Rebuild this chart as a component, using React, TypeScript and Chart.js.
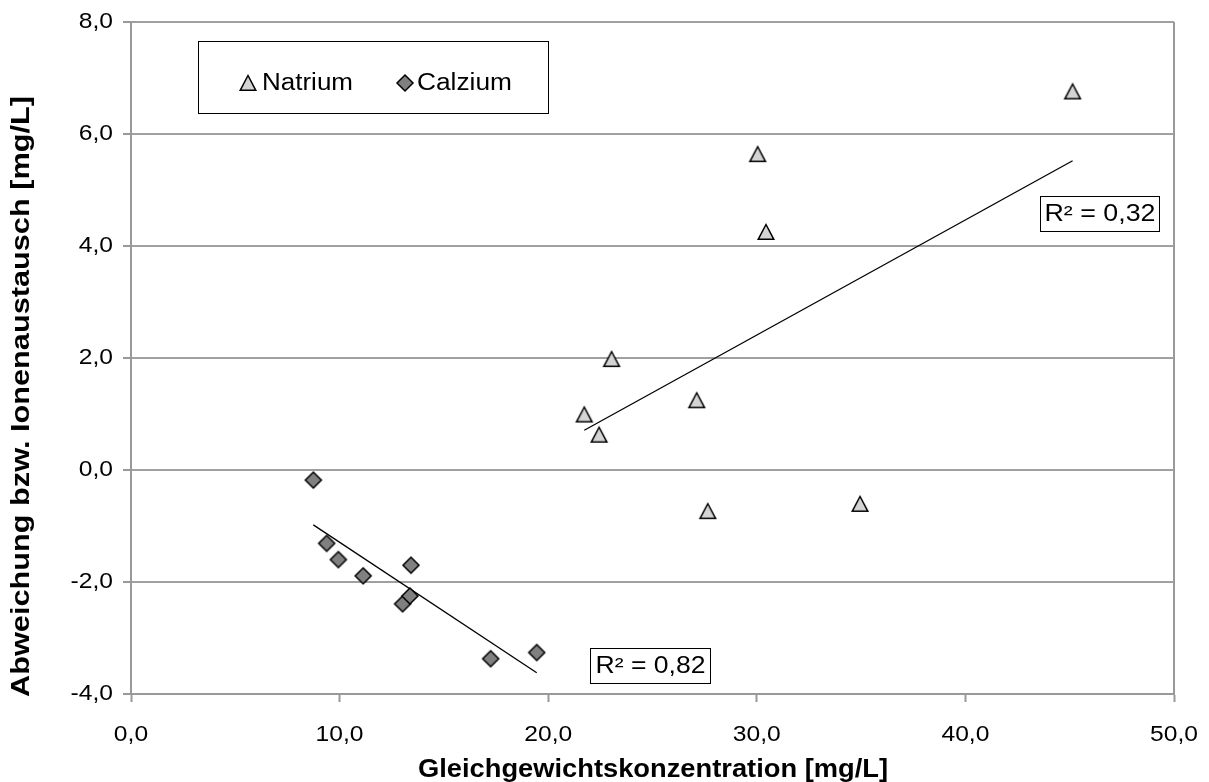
import React, { useEffect, useRef } from "react";
import { Chart, registerables } from "chart.js";

Chart.register(...registerables);

const natriumX = [21.73, 22.44, 23.04, 27.12, 27.65, 30.04, 30.44, 34.95, 45.14];
const natriumY = [0.99, 0.63, 1.98, 1.245, -0.735, 5.64, 4.25, -0.605, 6.76];
const calziumX = [8.74, 9.38, 9.94, 11.13, 13.42, 13.02, 13.37, 17.24, 19.45];
const calziumY = [-0.18, -1.31, -1.6, -1.89, -1.7, -2.39, -2.25, -3.37, -3.26];
const seriesNames = ["Natrium", "Calzium"];
const r2Labels = ["R² = 0,32", "R² = 0,82"];
const xTitle = "Gleichgewichtskonzentration [mg/L]";
const yTitle = "Abweichung bzw. Ionenaustausch [mg/L]";

const FONT = "'Liberation Sans', Arial, sans-serif";

function regressionLine(xs: number[], ys: number[]) {
  const n = xs.length;
  const mx = xs.reduce((a, b) => a + b, 0) / n;
  const my = ys.reduce((a, b) => a + b, 0) / n;
  let sxy = 0, sxx = 0;
  for (let i = 0; i < n; i++) {
    sxy += (xs[i] - mx) * (ys[i] - my);
    sxx += (xs[i] - mx) ** 2;
  }
  const slope = sxy / sxx;
  const icpt = my - slope * mx;
  const x0 = Math.min(...xs);
  const x1 = Math.max(...xs);
  return [
    { x: x0, y: icpt + slope * x0 },
    { x: x1, y: icpt + slope * x1 },
  ];
}

function makeTriangle(): HTMLCanvasElement {
  const c = document.createElement("canvas");
  c.width = 20;
  c.height = 20;
  const g = c.getContext("2d")!;
  g.beginPath();
  g.moveTo(10, 2.5);
  g.lineTo(17.8, 17.3);
  g.lineTo(2.2, 17.3);
  g.closePath();
  g.fillStyle = "#d4d4d4";
  g.fill();
  g.lineWidth = 1.5;
  g.strokeStyle = "#000";
  g.stroke();
  return c;
}

function makeDiamond(): HTMLCanvasElement {
  const c = document.createElement("canvas");
  c.width = 20;
  c.height = 20;
  const g = c.getContext("2d")!;
  g.beginPath();
  g.moveTo(10, 2);
  g.lineTo(18, 10);
  g.lineTo(10, 18);
  g.lineTo(2, 10);
  g.closePath();
  g.fillStyle = "#808080";
  g.fill();
  g.lineWidth = 1.5;
  g.strokeStyle = "#000";
  g.stroke();
  return c;
}

function fmt(v: number) {
  return v.toFixed(1).replace(".", ",");
}

// draws text with a horizontal stretch; if targetW given, stretch to that width
function drawText(
  ctx: CanvasRenderingContext2D,
  text: string,
  x: number,
  y: number,
  font: string,
  align: CanvasTextAlign,
  stretch: number,
  targetW?: number,
  rotate?: number
) {
  ctx.save();
  ctx.font = font;
  ctx.textAlign = align;
  ctx.textBaseline = "middle";
  ctx.fillStyle = "#000";
  ctx.translate(x, y);
  if (rotate) ctx.rotate(rotate);
  let s = stretch;
  if (targetW) s = targetW / ctx.measureText(text).width;
  ctx.scale(s, 1);
  ctx.fillText(text, 0, 0);
  ctx.restore();
}

export default function App() {
  const ref = useRef<HTMLCanvasElement | null>(null);

  useEffect(() => {
    const canvas = ref.current!;
    const tri = makeTriangle();
    const dia = makeDiamond();

    const overlay = {
      id: "overlay",
      afterDraw(chart: any) {
        const ctx = chart.ctx as CanvasRenderingContext2D;
        const a = chart.chartArea;
        const xs = chart.scales.x;
        const ys = chart.scales.y;
        ctx.save();
        // right border of plot area
        ctx.strokeStyle = "#999";
        ctx.lineWidth = 2;
        ctx.beginPath();
        ctx.moveTo(a.right, a.top);
        ctx.lineTo(a.right, a.bottom);
        ctx.stroke();
        ctx.restore();

        // tick labels
        const tickFont = `22px ${FONT}`;
        for (const t of xs.ticks) {
          drawText(ctx, fmt(t.value), xs.getPixelForValue(t.value), 735, tickFont, "center", 1.12);
        }
        for (const t of ys.ticks) {
          drawText(ctx, fmt(t.value), 113, ys.getPixelForValue(t.value), tickFont, "right", 1.12);
        }

        // legend box
        ctx.save();
        ctx.fillStyle = "#fff";
        ctx.fillRect(198.5, 41, 350, 73);
        ctx.strokeStyle = "#000";
        ctx.lineWidth = 1;
        ctx.strokeRect(198.5, 41.5, 350, 72);
        ctx.drawImage(tri, 248 - 10, 83 - 10);
        ctx.drawImage(dia, 405 - 10, 83 - 10);
        ctx.restore();
        const labFont = `23px ${FONT}`;
        drawText(ctx, seriesNames[0], 262, 84, labFont, "left", 1, 91);
        drawText(ctx, seriesNames[1], 417, 84, labFont, "left", 1, 95);

        // R² boxes
        const boxes = [
          { x: 1040.5, y: 196.5, w: 119, h: 35, t: r2Labels[0], tw: 111 },
          { x: 590.5, y: 648.5, w: 120, h: 35, t: r2Labels[1], tw: 110 },
        ];
        for (const b of boxes) {
          ctx.save();
          ctx.fillStyle = "#fff";
          ctx.fillRect(b.x, b.y, b.w, b.h);
          ctx.strokeStyle = "#000";
          ctx.lineWidth = 1;
          ctx.strokeRect(b.x, b.y, b.w, b.h);
          ctx.restore();
          drawText(ctx, b.t, b.x + b.w / 2, b.y + b.h / 2 + 1, labFont, "center", 1, b.tw);
        }

        // axis titles
        const titleFont = `bold 25px ${FONT}`;
        drawText(ctx, xTitle, 653, 770, titleFont, "center", 1, 470);
        drawText(ctx, yTitle, 22, 396.5, titleFont, "center", 1, 601, -Math.PI / 2);
      },
    };

    const chart = new Chart(canvas, {
      type: "scatter",
      data: {
        datasets: [
          {
            label: seriesNames[0],
            data: natriumX.map((x, i) => ({ x, y: natriumY[i] })),
            pointStyle: tri as any,
            pointRadius: 9,
            order: 1,
          },
          {
            label: seriesNames[1],
            data: calziumX.map((x, i) => ({ x, y: calziumY[i] })),
            pointStyle: dia as any,
            pointRadius: 9,
            order: 1,
          },
          {
            type: "line" as any,
            label: "trend1",
            data: regressionLine(natriumX, natriumY),
            borderColor: "#000",
            borderWidth: 1.3,
            pointRadius: 0,
            showLine: true,
            fill: false,
            order: 2,
          },
          {
            type: "line" as any,
            label: "trend2",
            data: regressionLine(calziumX, calziumY),
            borderColor: "#000",
            borderWidth: 1.3,
            pointRadius: 0,
            showLine: true,
            fill: false,
            order: 2,
          },
        ],
      },
      options: {
        responsive: false,
        animation: false,
        devicePixelRatio: 1,
        layout: { padding: { left: 0, top: 22, right: 35, bottom: 0 } },
        plugins: {
          legend: { display: false },
          tooltip: { enabled: false },
        },
        scales: {
          x: {
            type: "linear",
            min: 0,
            max: 50,
            ticks: {
              stepSize: 10,
              display: false,
            },
            grid: {
              drawOnChartArea: false,
              drawTicks: true,
              tickLength: 8,
              tickColor: "#999",
              tickWidth: 2,
              color: "#999",
            },
            border: { display: true, color: "#999", width: 2 },
            afterFit: (s: any) => {
              s.height = 88;
            },
          },
          y: {
            type: "linear",
            min: -4,
            max: 8,
            ticks: {
              stepSize: 2,
              display: false,
            },
            grid: {
              drawOnChartArea: true,
              drawTicks: true,
              tickLength: 8,
              color: "#a0a0a0",
              lineWidth: 2,
              tickColor: "#999",
              tickWidth: 2,
            },
            border: { display: true, color: "#999", width: 2 },
            afterFit: (s: any) => {
              s.width = 131;
            },
          },
        },
      },
      plugins: [overlay],
    } as any);

    return () => chart.destroy();
  }, []);

  return (
    <div style={{ position: "fixed", left: 0, top: 0, width: 1209, height: 782, background: "#fff" }}>
      <canvas ref={ref} width={1209} height={782} style={{ display: "block" }} />
    </div>
  );
}
